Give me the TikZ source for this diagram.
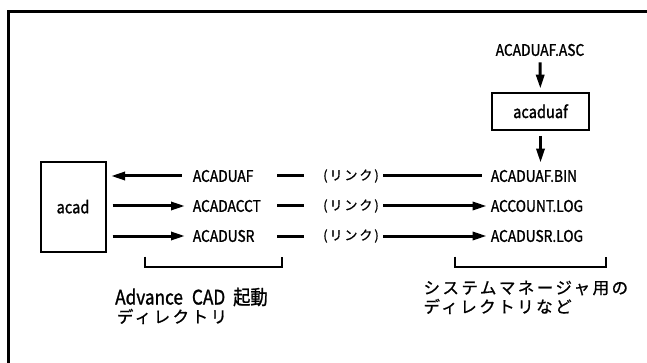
\documentclass[tikz,border=0pt]{standalone}
\usepackage{fontspec}
\setmainfont{Noto Sans CJK JP}
\newfontfamily\lblfont[FakeStretch=0.86, FakeBold=1.2]{Noto Sans CJK JP}
\newfontfamily\notefont[LetterSpace=15, FakeBold=0.8]{Noto Sans CJK JP}
\usetikzlibrary{arrows.meta}

\tikzset{
	lbl/.style={inner sep=0pt, font=\lblfont\fontsize{16}{16}\selectfont},
	lnk/.style={inner sep=0pt, font=\notefont\fontsize{13}{13}\selectfont},
	note/.style={inner sep=0pt, anchor=west, font=\notefont\fontsize{16.5}{16.5}\selectfont},
	box/.style={draw, line width=2pt, inner sep=0pt, font=\lblfont\fontsize{17}{17}\selectfont},
	conn/.style={line width=3pt},
	arr/.style={conn, -{Triangle[length=14pt,width=8pt]}},
	brk/.style={line width=2pt}
}

\begin{document}
\begin{tikzpicture}[x=1pt, y=-1pt]
		%%%%% START %%%%%
		
		\useasboundingbox (0, 0) rectangle (647, 363);
		\fill[white] (0, 0) rectangle (647, 363);
		\draw[line width=2.6pt] (8.5, 11.7) rectangle (680, 400);
		
		% boxes
		\node[box, minimum width=65pt, minimum height=90pt] (acad) at (73, 206.7) {acad};
		\node[box, minimum width=97.6pt, minimum height=37.3pt] (acaduaf) at (540.5, 111.3) {acaduaf};
		\node[lbl] (asc) at (540, 50) {ACADUAF.ASC};
		
		% rows
		\node[lbl, anchor=west] (uaf) at (192.7, 176) {ACADUAF};
		\node[lbl, anchor=west] (acct) at (192.7, 206) {ACADACCT};
		\node[lbl, anchor=west] (usr) at (192.7, 236) {ACADUSR};
		
		\node[lnk] (lnkA) at (351, 176) {(リンク)};
		\node[lnk] (lnkB) at (351, 206) {(リンク)};
		\node[lnk] (lnkC) at (351, 236) {(リンク)};
		
		\node[lbl, anchor=west] (bin) at (490.7, 176) {ACADUAF.BIN};
		\node[lbl, anchor=west] (account) at (490.7, 206) {ACCOUNT.LOG};
		\node[lbl, anchor=west] (usrlog) at (490.7, 236) {ACADUSR.LOG};
		
		% vertical arrows
		\draw[arr, shorten <=6pt, shorten >=3pt] (asc) -- (acaduaf);
		\draw[arr, shorten <=5pt, shorten >=7pt] (acaduaf) -- (bin.north -| acaduaf);
		
		% left arrows
		\draw[arr, shorten <=11pt, shorten >=4.5pt] (uaf.west) -- (uaf.west -| acad.east);
		\draw[arr, shorten <=6pt, shorten >=7.7pt] (acct.west -| acad.east) -- (acct.west);
		\draw[arr, shorten <=6pt, shorten >=7.7pt] (usr.west -| acad.east) -- (usr.west);
		
		% dashes before the links
		\draw[conn] ([xshift=-46pt]lnkA.west) -- ([xshift=-19pt]lnkA.west);
		\draw[conn] ([xshift=-46pt]lnkB.west) -- ([xshift=-19pt]lnkB.west);
		\draw[conn] ([xshift=-46pt]lnkC.west) -- ([xshift=-19pt]lnkC.west);
		
		% links to the right side
		\draw[conn, shorten <=4pt, shorten >=9pt] (lnkA.east) -- (bin.west);
		\draw[arr, shorten <=4pt, shorten >=4pt] (lnkB.east) -- (account.west);
		\draw[arr, shorten <=4pt, shorten >=4pt] (lnkC.east) -- (usrlog.west);
		
		% brackets
		\draw[brk] (145, 256.7) -- (145, 267.3) -- (281.7, 267.3) -- (281.7, 256.7);
		\draw[brk] (455, 256.7) -- (455, 267.3) -- (606, 267.3) -- (606, 256.7);
		
		% notes
		\node[lbl, anchor=west, font=\lblfont\fontsize{20}{20}\selectfont] (startdir) at (115, 297) {Advance\hspace{9pt}CAD\hspace{8pt}起動};
		\node[note] (startdir2) at (116.7, 316.5) {ディレクトリ};
		\node[note] (sysdir) at (423.3, 288) {システムマネージャ用の};
		\node[note] (sysdir2) at (423.3, 306.5) {ディレクトリなど};
		
		%%%%% END %%%%%
\end{tikzpicture}
\end{document}
